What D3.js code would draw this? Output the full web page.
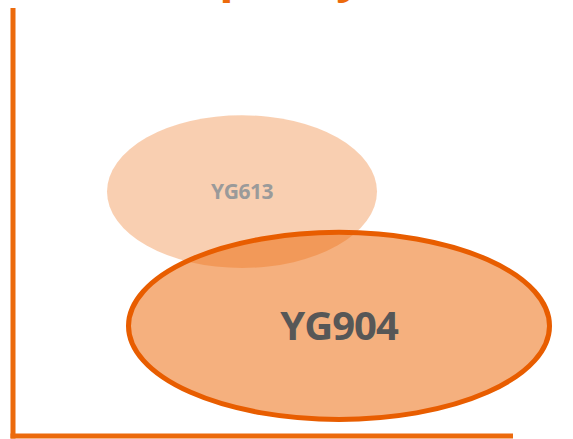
<!DOCTYPE html>
<html>
<head>
<meta charset="utf-8">
<script src="https://cdn.jsdelivr.net/npm/d3@7"></script>
<style>
  html, body { margin: 0; padding: 0; background: #fff; }
  svg { display: block; }
</style>
</head>
<body>
<script>
// ---- data ----
const names   = ["YG613", "YG904"];
const xCenter = [45.8, 65.2];   // x position of each grade
const yCenter = [57.2, 25.9];   // y position of each grade
const xSpread = [27.0, 42.1];   // half-width of each ellipse
const ySpread = [17.8, 21.8];   // half-height of each ellipse
const titleText = "Capacity";

const W = 573, H = 439;
const margin = { left: 13, right: 60, top: 8, bottom: 2 };

const svg = d3.select("body").append("svg")
  .attr("width", W).attr("height", H);

const x = d3.scaleLinear().domain([0, 100]).range([margin.left, W - margin.right]);
const y = d3.scaleLinear().domain([0, 100]).range([H - margin.bottom, margin.top]);

const orange = "#EC6A0C";

// title (mostly cut off above the view, as in the original)
svg.append("text")
  .attr("x", 262).attr("y", -8)
  .attr("text-anchor", "middle")
  .attr("font-family", "Open Sans, sans-serif")
  .attr("font-weight", 700)
  .attr("font-size", 47)
  .attr("fill", orange)
  .text(titleText);

const data = names.map((n, i) => ({
  name: n, cx: xCenter[i], cy: yCenter[i], rx: xSpread[i], ry: ySpread[i], i
}));

// ellipses
svg.append("g").selectAll("ellipse")
  .data(data).join("ellipse")
  .attr("cx", d => x(d.cx))
  .attr("cy", d => y(d.cy))
  .attr("rx", d => x(d.rx) - x(0))
  .attr("ry", d => y(0) - y(d.ry))
  .attr("fill", orange)
  .attr("fill-opacity", d => d.i === 0 ? 0.32 : 0.53)
  .attr("stroke", d => d.i === 0 ? "none" : "#E85D00")
  .attr("stroke-width", 5);

// labels
svg.append("g").selectAll("text")
  .data(data).join("text")
  .attr("x", d => x(d.cx))
  .attr("y", d => y(d.cy))
  .attr("dy", "0.36em")
  .attr("text-anchor", "middle")
  .attr("font-family", "Open Sans, sans-serif")
  .attr("font-weight", 700)
  .attr("font-size", d => d.i === 0 ? 21 : 40)
  .attr("letter-spacing", d => d.i === 0 ? -0.5 : -1)
  .attr("fill", d => d.i === 0 ? "#9A9A9A" : "#575757")
  .text(d => d.name);

// axes (plain lines, no ticks)
const xAxis = d3.axisBottom(x).tickValues([]).tickSizeOuter(0);
const yAxis = d3.axisLeft(y).tickValues([]).tickSizeOuter(0);

const gx = svg.append("g").attr("transform", `translate(0,${y(0) - 1})`).call(xAxis);
const gy = svg.append("g").attr("transform", `translate(${x(0)},0)`).call(yAxis);
[gx, gy].forEach(g => g.select(".domain")
  .attr("stroke", orange).attr("stroke-width", 5).attr("stroke-linecap", "butt"));
gy.select(".domain").attr("d", `M0,${y(100)}V${y(0) + 1.5}`);
gx.select(".domain").attr("d", `M${x(0) - 2.5},0H${x(100)}`);
</script>
</body>
</html>
